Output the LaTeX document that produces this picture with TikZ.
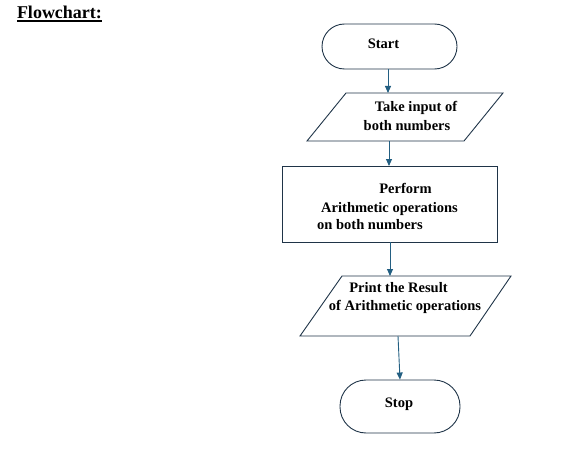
\documentclass[tikz,border=0pt]{standalone}
\usepackage{fontspec}
\setmainfont{Liberation Serif}
\usetikzlibrary{arrows.meta}
\definecolor{edge}{RGB}{31,52,72}
\definecolor{arr}{RGB}{35,95,130}
\tikzset{
  shapeline/.style={draw=edge, line width=0.9pt},
  term/.style={shapeline, inner sep=0pt, rounded corners=#1},
  blank/.style={inner sep=0pt, outer sep=0pt},
  txt/.style={inner sep=0pt, anchor=base, font=\fontsize{14.5}{17}\selectfont\bfseries},
  arrow/.style={draw=arr, line width=0.9pt, -{Triangle[length=7pt,width=6pt]}},
}
\begin{document}
\begin{tikzpicture}[x=1pt,y=-1pt]
\useasboundingbox (0,0) rectangle (587,460);
% heading
\node[blank, anchor=base west, font=\fontsize{18}{20}\selectfont\bfseries] (head) at (17,18.5) {Flowchart:};
\draw[line width=1.4pt] ([yshift=-2.6pt]head.base west) -- ([yshift=-2.6pt]head.base east);
% shapes
\node[term=22.5pt, minimum width=135pt, minimum height=45pt] (start) at (389.5,46.5) {};
\node[blank, minimum width=196pt, minimum height=48pt] (p1) at (405,117) {};
\draw[shapeline] ([xshift=39pt]p1.north west) -- (p1.north east) -- ([xshift=-39pt]p1.south east) -- (p1.south west) -- cycle;
\node[shapeline, blank, minimum width=215pt, minimum height=76pt] (proc) at (389.5,204) {};
\node[blank, minimum width=211pt, minimum height=60pt] (p2) at (405.5,306) {};
\draw[shapeline] ([xshift=42pt]p2.north west) -- (p2.north east) -- ([xshift=-41pt]p2.south east) -- (p2.south west) -- cycle;
\node[term=26pt, minimum width=120pt, minimum height=53pt] (stop) at (400,406.5) {};
% texts
\node[txt] (tstart) at (383.5,48.8) {Start};
\node[txt] (tin1) at (416,112) {Take input of};
\node[txt] (tin2) at (407,130.5) {both numbers};
\node[txt] (tp1) at (405.5,193) {Perform};
\node[txt] (tp2) at (389.5,212) {Arithmetic operations};
\node[txt] (tp3) at (370,229) {on both numbers};
\node[txt] (to1) at (398.5,292) {Print the Result};
\node[txt] (to2) at (405,310) {of Arithmetic operations};
\node[txt] (tstop) at (399,407.5) {Stop};
% connectors
\draw[arrow] ([xshift=-1.5pt]start.south) -- ([xshift=-1.5pt]start.south |- p1.north);
\draw[arrow] ([xshift=-0.5pt]p1.south -| start.south) -- ([xshift=-0.5pt]proc.north -| start.south);
\draw[arrow] ([xshift=0.5pt]proc.south -| start.south) -- ([xshift=0.5pt]p2.north -| start.south);
\draw[arrow] ([xshift=-2pt]stop.north |- p2.south) -- (stop.north);
\end{tikzpicture}
\end{document}
